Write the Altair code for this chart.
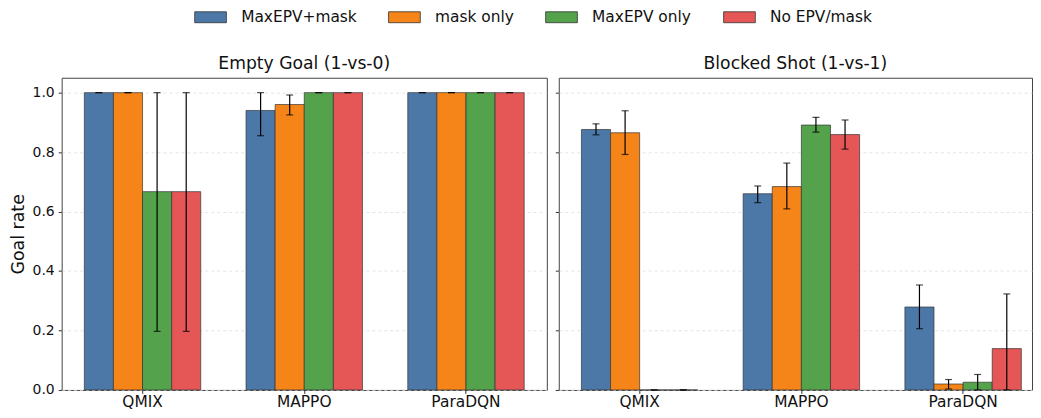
import altair as alt
import pandas as pd

models = ["QMIX", "MAPPO", "ParaDQN"]
variants = ["MaxEPV+mask", "mask only", "MaxEPV only", "No EPV/mask"]
colors = ["#4C78A8", "#F58518", "#54A24B", "#E45756"]

# Empty Goal (1-vs-0): mean, lower, upper per variant (order = models)
eg_mean = {
    "MaxEPV+mask": [1.0, 0.94, 1.0],
    "mask only": [1.0, 0.96, 1.0],
    "MaxEPV only": [0.667, 1.0, 1.0],
    "No EPV/mask": [0.667, 1.0, 1.0],
}
eg_lo = {
    "MaxEPV+mask": [1.0, 0.855, 1.0],
    "mask only": [1.0, 0.925, 1.0],
    "MaxEPV only": [0.197, 1.0, 1.0],
    "No EPV/mask": [0.197, 1.0, 1.0],
}
eg_hi = {
    "MaxEPV+mask": [1.0, 1.0, 1.0],
    "mask only": [1.0, 0.992, 1.0],
    "MaxEPV only": [1.0, 1.0, 1.0],
    "No EPV/mask": [1.0, 1.0, 1.0],
}

# Blocked Shot (1-vs-1)
bs_mean = {
    "MaxEPV+mask": [0.876, 0.660, 0.279],
    "mask only": [0.865, 0.684, 0.020],
    "MaxEPV only": [0.0, 0.891, 0.026],
    "No EPV/mask": [0.0, 0.859, 0.139],
}
bs_lo = {
    "MaxEPV+mask": [0.858, 0.630, 0.206],
    "mask only": [0.792, 0.609, 0.003],
    "MaxEPV only": [0.0, 0.867, 0.0],
    "No EPV/mask": [0.0, 0.810, 0.0],
}
bs_hi = {
    "MaxEPV+mask": [0.895, 0.686, 0.353],
    "mask only": [0.939, 0.763, 0.035],
    "MaxEPV only": [0.0, 0.917, 0.052],
    "No EPV/mask": [0.0, 0.908, 0.323],
}

y_ticks = [0.0, 0.2, 0.4, 0.6, 0.8, 1.0]


def make_df(mean, lo, hi):
    rows = []
    for v in variants:
        for i, m in enumerate(models):
            rows.append({"model": m, "variant": v, "mean": mean[v][i],
                         "lo": lo[v][i], "hi": hi[v][i]})
    return pd.DataFrame(rows)


df_eg = make_df(eg_mean, eg_lo, eg_hi)
df_bs = make_df(bs_mean, bs_lo, bs_hi)

yscale = alt.Scale(domain=[0, 1.05], nice=False, zero=True)


def panel(df, title, width, xscale, first):
    base = alt.Chart(df)
    x = alt.X("model:N", sort=models, scale=xscale,
              axis=alt.Axis(title=None, labelAngle=0, labelFontSize=15.5,
                            labelColor="#111", tickSize=3.5, tickColor="#333",
                            domain=False, labelPadding=1))
    xo = alt.XOffset("variant:N", sort=variants,
                     scale=alt.Scale(paddingInner=0, paddingOuter=0))
    if first:
        yaxis = alt.Axis(title="Goal rate", values=y_ticks, format=".1f",
                         labelFontSize=14, labelColor="#111", titleFontSize=17.5,
                         titleFontWeight="normal", titleColor="#111",
                         titlePadding=5, tickSize=3.5, tickColor="#333",
                         domain=False, grid=True, gridDash=[3, 3],
                         gridColor="#dddddd", gridWidth=0.8, labelPadding=4)
    else:
        yaxis = alt.Axis(title=None, values=y_ticks, labels=False,
                         tickSize=3.5, tickColor="#333", domain=False, grid=True,
                         gridDash=[3, 3], gridColor="#dddddd", gridWidth=0.8)
    bars = base.mark_bar(stroke="#333333", strokeWidth=0.8, strokeOpacity=0.85,
                         opacity=1).encode(
        x=x, xOffset=xo,
        y=alt.Y("mean:Q", scale=yscale, axis=yaxis),
        color=alt.Color("variant:N", sort=variants,
                        scale=alt.Scale(domain=variants, range=colors),
                        legend=alt.Legend(title=None)),
    )
    rules = base.mark_rule(color="black", strokeWidth=1.2).encode(
        x=x, xOffset=xo, y=alt.Y("lo:Q", scale=yscale), y2="hi:Q")
    cap_lo = base.mark_tick(color="black", size=7, thickness=1.2).encode(
        x=x, xOffset=xo, y=alt.Y("lo:Q", scale=yscale))
    cap_hi = base.mark_tick(color="black", size=7, thickness=1.2).encode(
        x=x, xOffset=xo, y=alt.Y("hi:Q", scale=yscale))
    return alt.layer(bars, rules, cap_lo, cap_hi).properties(
        width=width, height=314,
        title=alt.TitleParams(title, fontSize=17.3, fontWeight="normal",
                              color="#111", offset=6))


left = panel(df_eg, "Empty Goal (1-vs-0)", 488,
             alt.Scale(paddingInner=0.28, paddingOuter=0.14), True)
right = panel(df_bs, "Blocked Shot (1-vs-1)", 476,
              alt.Scale(paddingInner=0.28, paddingOuter=0.103, align=0.68), False)

chart = alt.hconcat(left, right, spacing=6).resolve_scale(y="shared").properties(
    padding={"left": 0, "top": 0, "right": 0, "bottom": -2}
).configure(font="DejaVu Sans").configure_view(
    stroke="#444444", strokeWidth=1
).configure_legend(
    orient="none", legendX=142, legendY=-69, direction="horizontal",
    labelFontSize=15.5, labelColor="#111", labelFont="DejaVu Sans",
    symbolType="M-2.9,-1H2.9V1H-2.9Z", symbolSize=121,
    symbolStrokeColor="#333333", symbolStrokeWidth=0.8, symbolOpacity=1,
    columnPadding=30, labelOffset=23, labelLimit=300, padding=0
)

chart.save("out.html", embed_options={"renderer": "svg", "actions": False})
